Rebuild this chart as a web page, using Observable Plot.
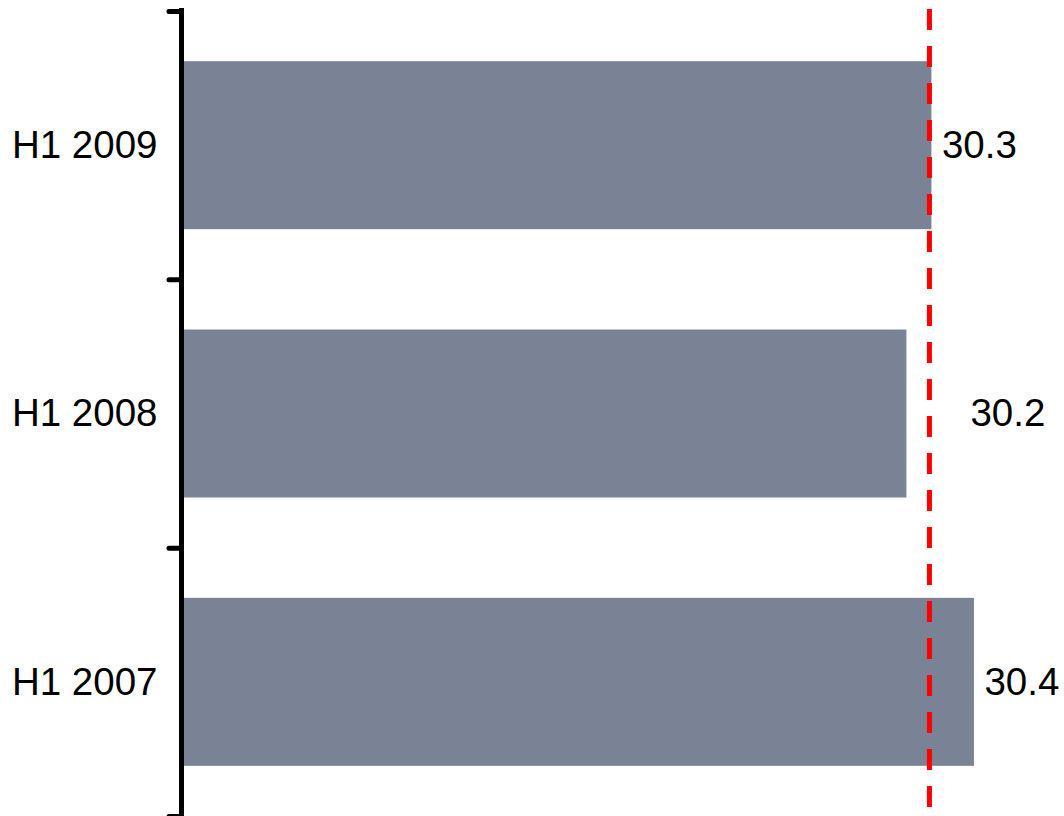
<!DOCTYPE html>
<html>
<head>
<meta charset="utf-8">
<script src="https://cdn.jsdelivr.net/npm/d3@7"></script>
<script src="https://cdn.jsdelivr.net/npm/@observablehq/plot@0.6"></script>
<style>
  html, body { margin: 0; padding: 0; background: #fff; }
  svg { display: block; }
</style>
</head>
<body>
<div id="chart"></div>
<script>
// Data
const categories = ["H1 2009", "H1 2008", "H1 2007"];
const values = [30.3, 30.2, 30.47];
const valueLabels = ["30.3", "30.2", "30.4"];
const referenceValue = 30.29;
const axisStart = 27.3;
const axisEnd = 30.83;

const rows = categories.map((c, i) => ({idx: i, category: c, value: values[i], label: valueLabels[i]}));
const halfBar = 0.313;
const bounds = d3.range(-0.5, categories.length, 1);

const fontFamily = "'Liberation Sans', Arial, Helvetica, sans-serif";
const fontSize = 38.5;

const chart = Plot.plot({
  width: 1064,
  height: 816,
  marginTop: 11,
  marginBottom: 0,
  marginLeft: 181,
  marginRight: 0,
  style: {fontFamily, background: "#fff", overflow: "visible"},
  x: {domain: [axisStart, axisEnd], axis: null},
  y: {domain: [-0.5, categories.length - 0.5], reverse: true, axis: null},
  marks: [
    Plot.rectX(rows, {
      x1: axisStart,
      x2: "value",
      y1: d => d.idx - halfBar,
      y2: d => d.idx + halfBar,
      fill: "#7a8395"
    }),
    Plot.ruleX([referenceValue], {
      stroke: "#ff0000",
      strokeWidth: 5,
      strokeDasharray: "21,16",
      insetTop: -2,
      insetBottom: -10
    }),
    // axis line
    Plot.ruleX([axisStart], {stroke: "#000", strokeWidth: 5, insetTop: -3, insetBottom: -10}),
    // boundary ticks
    Plot.axisY({
      ticks: bounds,
      tickSize: 12,
      tickFormat: () => "",
      label: null,
      stroke: "#000",
      strokeWidth: 5,
      strokeLinecap: "round"
    }),
    // category labels
    Plot.axisY({
      ticks: d3.range(categories.length),
      tickFormat: i => categories[i],
      label: null,
      tickSize: 0,
      tickPadding: 24,
      fontSize,
      fill: "#000"
    }),
    // value labels beyond reference line
    Plot.text(rows.filter(d => d.value >= referenceValue), {
      x: "value",
      y: "idx",
      text: "label",
      textAnchor: "start",
      dx: 10,
      fontSize,
      fill: "#000"
    }),
    // value labels for bars short of reference line
    Plot.text(rows.filter(d => d.value < referenceValue), {
      x: referenceValue,
      y: "idx",
      text: "label",
      textAnchor: "start",
      dx: 41,
      fontSize,
      fill: "#000"
    })
  ]
});

document.getElementById("chart").appendChild(chart);
</script>
</body>
</html>
